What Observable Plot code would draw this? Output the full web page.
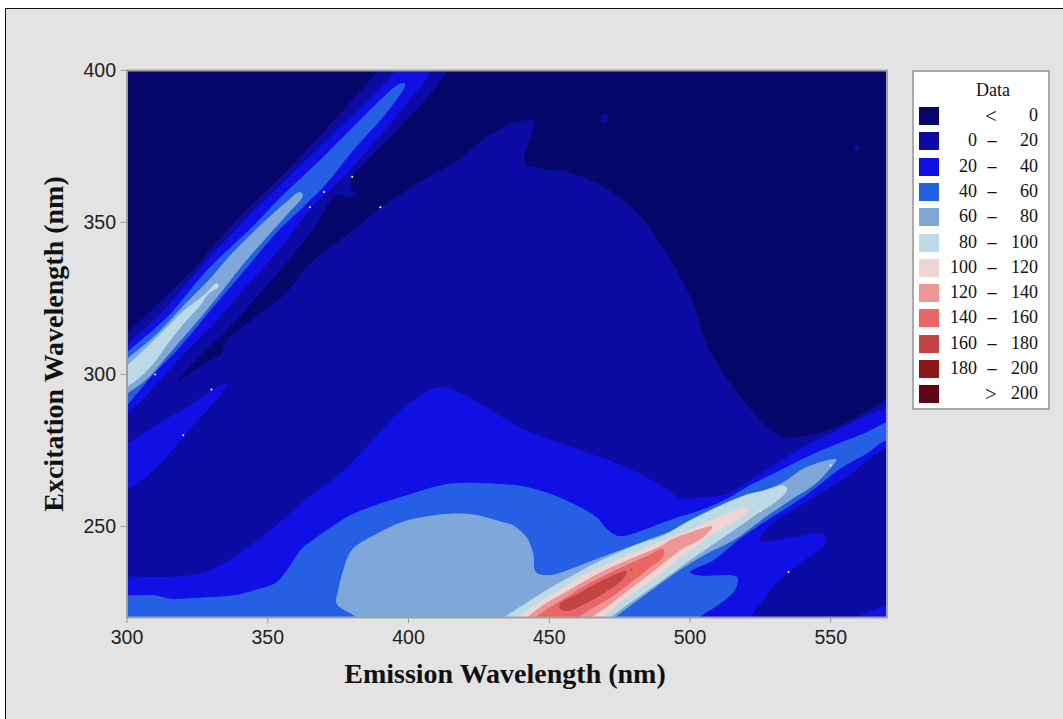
<!DOCTYPE html>
<html>
<head>
<meta charset="utf-8">
<script src="https://cdn.jsdelivr.net/npm/d3@7"></script>
<script src="https://cdn.jsdelivr.net/npm/@observablehq/plot@0.6"></script>
<style>
html,body{margin:0;padding:0;background:#fff;width:1063px;height:719px;overflow:hidden}
#panel{position:absolute;left:5px;top:8px;width:1058px;height:711px;background:#e3e3e3;border-left:1.5px solid #111;border-top:1.5px solid #111;box-sizing:border-box}
#chart{position:absolute;left:0;top:0}
#legend{position:absolute;left:912px;top:70px;width:138px;height:340px;background:#fff;border:2px solid #aaa;box-sizing:border-box;font:18px "Liberation Serif",serif;color:#111}
#legend div{position:absolute;white-space:pre}
</style>
</head>
<body>
<div id="panel"></div>
<div id="chart"></div>
<div id="legend"></div>
<script>
const bandLabels = ["< 0","0 - 20","20 - 40","40 - 60","60 - 80","80 - 100","100 - 120","120 - 140","140 - 160","160 - 180","180 - 200","> 200"];
const bandColors = ["#07076B","#0C0CA5","#1010E4","#2560E4","#7FA7DA","#BCDBE6","#EFD6D2","#EE9696","#E86666","#C44444","#8C1717","#5F0510"];
const xTicks = [300,350,400,450,500,550];
const yTicks = [250,300,350,400];

const level0to20 = [[295,215],[295,308],[300,313.3],[323.7,334.7],[335.5,347.4],[363.7,373.7],[389.1,400],[392,404],[412,404],[413.4,400],[380.3,365.4],[379.9,364.6],[379.7,361.1],[381.7,359.4],[379.1,358.3],[374.3,358.9],[366,347.5],[356.8,336.9],[345,324.3],[334.3,313.3],[324.9,305.1],[317.8,297.4],[327.2,303.5],[333.7,306.8],[334.9,310.6],[356.8,327],[363.7,335.3],[380.3,347.4],[389.7,354.5],[403.9,363.3],[418.1,370.9],[428.9,378.9],[437.8,382.9],[444.2,383.2],[441.3,369.7],[446.7,367.8],[457.3,366.4],[471.5,360.5],[482.2,352.3],[491,340.8],[499.9,326],[507,307.9],[517.7,293],[531.9,279.9],[541.4,279.9],[553.2,283.2],[570,292],[575,295],[575,215]];
const level20to40a = [[295,304],[300,309.5],[313,321],[327.2,336.4],[342.6,351.5],[367.2,373.7],[395.1,399.5],[398,403],[405,403],[407.5,400],[399.2,389],[377.9,366],[365.5,354.8],[356.8,344.1],[349.7,336.4],[340.2,326.5],[330.8,316.6],[320.1,306.8],[311.8,298],[305.3,291.4],[300,287],[295,283]];
const level20to40b = [[335.2,296.9],[330.1,294.7],[321.2,289.2],[312.9,284.8],[304.6,279.9],[300,277.2],[295,275],[295,260],[300,262],[304.6,264.6],[312.9,271.7],[320,279.4],[328.3,288.1],[333,293.1]];
const level20to40c = [[295,215],[295,233.5],[300,233.5],[317.6,233.5],[329.5,235.5],[341.3,242.1],[350.8,248.7],[363.8,259.1],[375.7,267.3],[385.1,276.1],[394.6,285.9],[399.9,290.3],[408.8,295.3],[412.9,295.8],[417,294.5],[427.7,289.2],[439.6,282.6],[456.2,276.6],[468,272.8],[479.9,268.4],[491.7,262.3],[496.4,259.4],[503.5,259.4],[513,260.7],[527.2,268.6],[539,275.5],[550.9,281],[562.7,286.5],[570,289],[575,291],[575,273],[570,275.5],[555.6,266.2],[545,260.1],[534.3,254.1],[527.2,249.2],[524.8,245.3],[536.7,246.4],[547.3,247.5],[548.3,244.8],[539,237.7],[529.6,230.5],[526,225.6],[521.3,220],[518,215]];
const level20to40d = [[557,215],[559.7,220],[566.3,222.9],[570,223.6],[575,224],[575,215]];
const level40to60a = [[295,303],[300,307.3],[314.2,318.8],[328.4,334.2],[345,349],[355.4,359],[368.4,370.4],[380.3,381.4],[388.5,389],[396.8,395.6],[398.6,395.8],[398.6,394.5],[390.9,384.6],[380.3,373.7],[370.8,362.7],[362.5,355],[352.7,346.3],[343.8,336.4],[336.7,328.7],[329.6,321],[323.7,314.4],[316.6,306.8],[309.5,300.2],[302.4,292.4],[300,289.8],[295,286]];
const level40to60b = [[295,215],[295,227.3],[300,227.3],[309.9,227.3],[315.3,226.2],[325.3,226.5],[337.8,227.3],[344.9,228.9],[353.1,231.6],[356.7,235.5],[362.6,243.2],[365,244.8],[370.9,248.7],[380.4,254.1],[399.3,260.2],[414.7,264],[434.8,263.8],[439.6,263.4],[450.3,260.7],[459.7,256.9],[466.8,253],[470.4,249.2],[473.9,247],[477.5,247],[484.6,249.2],[494.1,252.5],[503.5,255.2],[513,259],[520.1,262.9],[529.6,267.3],[541.4,272.8],[550.9,276.6],[562.7,281],[570,284.3],[575,286],[575,275],[570,278.2],[562.7,273.9],[553.2,268.9],[544.9,262.9],[536.7,257.4],[527.2,251.9],[517.7,245.9],[508.3,238.8],[500,234.9],[503.5,233.8],[516.8,233.3],[515.9,228.9],[510.6,224.5],[503.5,220],[499,215]];
const level60to80a = [[295,301],[300,305.1],[310.7,313.4],[320.1,322.7],[328.4,330.4],[335.5,338],[345.6,347.5],[356.6,356.7],[361.3,360],[362.5,358.9],[356.6,352.3],[349.7,345.2],[341.4,336.4],[334.3,328],[327.2,319.9],[320.1,312.2],[313,304.6],[307.1,298.5],[300,293.6],[295,290]];
const level60to80b = [[386,216],[381.6,220],[374.5,224.5],[375,228.9],[376.8,235.5],[379.8,242.1],[389.9,248.1],[399.4,251.9],[414.8,254.1],[423.1,253.9],[432.5,251.7],[437.2,250.3],[442,246.4],[444.3,241],[445.3,234.9],[450.3,234],[456.2,235.5],[465.6,238.8],[479.8,243.7],[494.1,248.6],[505.9,252.5],[515.4,256.9],[524.8,260.7],[533.1,264.5],[541.4,269.5],[552,272],[549.7,268.9],[543.8,263.4],[535.5,258.5],[526,252.5],[515.4,245.3],[505.9,241],[495.2,234.9],[484.6,227.8],[473.3,220],[468,216]];
const level80to100a = [[295,299],[300,302.9],[307.1,309],[314.2,315.5],[320.1,321],[327.2,326],[332,330],[332.6,328.9],[329,326.5],[326,322.7],[320.1,316.6],[315.4,311.2],[310.7,305.1],[304.7,299.1],[300,295.8],[295,292]];
const level80to100b = [[430,216],[434,220],[441.4,224.5],[450.8,230],[461.5,235.5],[470.9,239.9],[481.6,244.2],[490.5,247],[498.8,251.4],[509.4,256.3],[518.9,260.1],[526,261.8],[533.5,263.4],[534.6,262],[529.6,257.4],[524.8,254.7],[518.9,250.8],[509.4,244.8],[500,238.8],[489.3,231.6],[479.9,225.6],[471.6,220],[466,216]];
const level100to120 = [[434,216],[439,220],[444.9,224],[453.2,228.9],[462.7,234.2],[472.1,238.2],[481.6,242],[490.5,245.3],[503.5,250.3],[513,254.1],[520.1,256.1],[520.7,255],[515.4,251.4],[505.9,245.9],[497.6,240.4],[487,232.7],[477.5,226.7],[468.6,220],[463,216]];
const level120to140 = [[437,216],[442,220],[448.5,224.5],[455.6,228.3],[463.8,232.7],[472.1,236.6],[480.4,239.9],[489.9,243.7],[494,246],[500,248],[508,250],[504.7,246.4],[496.4,242],[488.1,236],[478.7,229.4],[470.4,223.4],[465,220],[460,216]];
const level140to160 = [[441,216],[445,220],[450.2,223.4],[456.2,226.7],[462.7,230.5],[471,234.4],[478,237.5],[485.2,240.5],[490.5,242.6],[490.5,240],[485.2,236],[479.2,231.6],[472.1,226.7],[465,222.9],[460.3,220],[455,216]];
const level160to180 = [[453.8,224.5],[460.3,227.8],[467.4,231.6],[474.5,234.6],[477.5,235.2],[476.3,232.7],[470.9,228.9],[463.8,225],[456.2,222.1],[453.8,222.9]];
const specks0to20 = [[469.7,384.2],[559.2,374.7]];
const speckSizes = [3.5,1.5];
const speck160to180 = [[479.2,235.7]];
const whitePoints = [[310,300],[330,295],[320,280],[365,355],[370,360],[380,365],[390,355],[535,235],[550,270],[525,255]];

const regions = [
  ["0 - 20",level0to20],["20 - 40",level20to40a],["20 - 40",level20to40b],["20 - 40",level20to40c],["20 - 40",level20to40d],
  ["40 - 60",level40to60a],["40 - 60",level40to60b],["60 - 80",level60to80a],["60 - 80",level60to80b],
  ["80 - 100",level80to100a],["80 - 100",level80to100b],["100 - 120",level100to120],["120 - 140",level120to140],
  ["140 - 160",level140to160],["160 - 180",level160to180]
];
const rows = regions.flatMap(([band,pts],id)=>pts.map(([x,y])=>({x,y,band,id})));
const sans = '"Liberation Sans",Arial,sans-serif', serif = '"Liberation Serif",serif';

const plot = Plot.plot({
  width:1063, height:719,
  marginLeft:126.5, marginTop:70, marginRight:176.5, marginBottom:102,
  style:{background:"transparent",overflow:"visible"},
  x:{domain:[300,570],label:null},
  y:{domain:[220,400],label:null},
  color:{type:"ordinal",domain:bandLabels,range:bandColors},
  marks:[
    Plot.frame({fill:bandColors[0],stroke:"none"}),
    Plot.line(rows,{x:"x",y:"y",z:"id",fill:"band",stroke:"none",curve:"catmull-rom-closed",clip:"frame",imageFilter:"blur(0.5px)"}),
    Plot.dot(specks0to20,{x:d=>d[0],y:d=>d[1],r:(d,i)=>speckSizes[i],fill:bandColors[1],stroke:"none"}),
    Plot.dot(speck160to180,{x:d=>d[0],y:d=>d[1],r:1.2,fill:bandColors[9],stroke:"none"}),
    Plot.dot(whitePoints,{x:d=>d[0],y:d=>d[1],r:1,fill:"#fff",stroke:"none"}),
    Plot.frame({stroke:"#a0a0a0",strokeWidth:2}),
    Plot.axisX({ticks:xTicks,tickFormat:d=>d,label:null,tickSize:6,tickPadding:7,stroke:"#999",fill:"#222",fontSize:19.5,fontFamily:sans}),
    Plot.axisY({ticks:yTicks,tickFormat:d=>d,label:null,tickSize:6,tickPadding:5,stroke:"#999",fill:"#222",fontSize:19.5,fontFamily:sans}),
    Plot.text(["Emission Wavelength (nm)"],{frameAnchor:"bottom",dy:65,dx:-2,fontFamily:serif,fontWeight:"bold",fontSize:28,fill:"#111"}),
    Plot.text(["Excitation Wavelength (nm)"],{frameAnchor:"left",textAnchor:"middle",dx:-73,rotate:-90,fontFamily:serif,fontWeight:"bold",fontSize:28,fill:"#111"})
  ]
});
document.getElementById("chart").append(plot);

const legend = document.getElementById("legend");
function put(text,css){const d=document.createElement("div");d.textContent=text;d.style.cssText=css;legend.append(d);}
put("Data","left:49px;width:60px;text-align:center;top:8px");
bandLabels.forEach((lab,i)=>{
  const top = 35 + i*25.3;
  put("",`left:5px;top:${top}px;width:20px;height:18px;background:${bandColors[i]}`);
  const parts = lab.split(" ");
  const mid = top-2;
  if(parts.length===2){
    put(parts[0],`left:67px;width:20px;text-align:center;top:${mid-1}px;font-size:21px`);
    put(parts[1],`right:10px;top:${mid}px`);
  }else{
    put(parts[0],`right:71px;top:${mid}px`);
    put("–",`left:70px;width:16px;text-align:center;top:${mid}px;font-weight:bold`);
    put(parts[2],`right:10px;top:${mid}px`);
  }
});
</script>
</body>
</html>
